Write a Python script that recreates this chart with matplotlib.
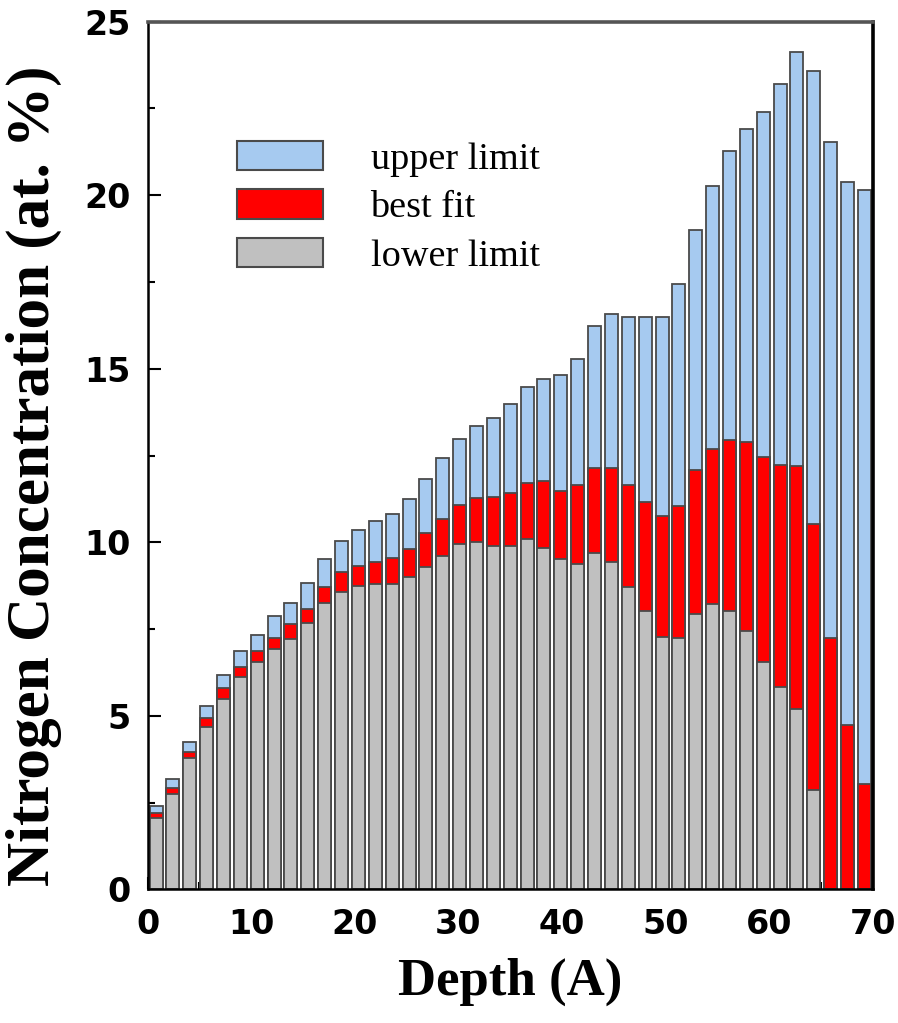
import numpy as np
import matplotlib
matplotlib.use("Agg")
import matplotlib.pyplot as plt
from matplotlib.patches import Patch
from matplotlib.ticker import MultipleLocator

# Nitrogen depth profile: 43 slabs spanning 0-70 A
n_bins = 43
depth_max = 70.0

upper_limit = [
    2.40, 3.18, 4.26, 5.29, 6.18, 6.87, 7.33, 7.89, 8.26, 8.84,
    9.53, 10.05, 10.36, 10.61, 10.83, 11.24, 11.82, 12.44, 12.97, 13.34,
    13.59, 13.98, 14.46, 14.70, 14.81, 15.27, 16.23, 16.58, 16.48, 16.48,
    16.50, 17.43, 18.99, 20.27, 21.26, 21.91, 22.39, 23.21, 24.11, 23.58,
    21.53, 20.39, 20.14,
]
best_fit = [
    2.21, 2.92, 3.95, 4.93, 5.79, 6.42, 6.87, 7.23, 7.65, 8.09,
    8.70, 9.14, 9.31, 9.44, 9.55, 9.80, 10.26, 10.68, 11.07, 11.29,
    11.31, 11.41, 11.72, 11.77, 11.48, 11.65, 12.14, 12.14, 11.65, 11.17,
    10.75, 11.04, 12.08, 12.70, 12.95, 12.88, 12.46, 12.22, 12.19, 10.54,
    7.23, 4.74, 3.05,
]
lower_limit = [
    2.05, 2.75, 3.78, 4.67, 5.49, 6.13, 6.54, 6.92, 7.21, 7.69,
    8.24, 8.56, 8.74, 8.80, 8.80, 8.99, 9.30, 9.60, 9.95, 10.00,
    9.90, 9.90, 10.09, 9.85, 9.51, 9.39, 9.70, 9.44, 8.70, 8.02,
    7.28, 7.23, 7.93, 8.22, 8.03, 7.45, 6.54, 5.84, 5.19, 2.88,
    0.0, 0.0, 0.0,
]

series_labels = ["upper limit", "best fit", "lower limit"]
series_colors = ["#a6caf0", "#ff0000", "#c0c0c0"]

step = depth_max / n_bins
depth = (np.arange(n_bins) + 0.5) * step
width = 0.77 * step

fig = plt.figure(figsize=(8.98, 10.23), dpi=100)
ax = fig.add_axes([0.1644, 0.1305, 0.8076, 0.8484])

# bars overlap from zero: tallest drawn first, smaller ones on top
for values, color in zip([upper_limit, best_fit, lower_limit], series_colors):
    ax.bar(depth, values, width=width, color=color, edgecolor="#4a4a4a",
           linewidth=1.3, zorder=2)

ax.set_xlim(0, depth_max)
ax.set_ylim(0, 25)
ax.xaxis.set_major_locator(MultipleLocator(10))
ax.xaxis.set_minor_locator(MultipleLocator(5))
ax.yaxis.set_major_locator(MultipleLocator(5))
ax.yaxis.set_minor_locator(MultipleLocator(2.5))
ax.tick_params(which="both", direction="in", top=False, right=False,
               width=1.5, color="black")
ax.tick_params(which="major", length=9)
ax.tick_params(which="minor", length=5)
ax.tick_params(axis="x", pad=13)
ax.tick_params(axis="y", pad=12)

for lab in ax.get_xticklabels() + ax.get_yticklabels():
    lab.set_fontfamily("DejaVu Sans")
    lab.set_fontweight("bold")
    lab.set_fontsize(24)

for side in ["left", "bottom"]:
    ax.spines[side].set_linewidth(1.8)
    ax.spines[side].set_color("black")
ax.spines["top"].set_linewidth(2.6)
ax.spines["top"].set_color("#555555")
ax.spines["right"].set_linewidth(2.6)
ax.spines["right"].set_color("black")

ax.set_xlabel("Depth (A)", family="Liberation Serif", weight="bold",
              fontsize=38, labelpad=12)
ax.set_ylabel("Nitrogen Concentration (at. %)", family="Liberation Serif",
              weight="bold", fontsize=44)
ax.yaxis.set_label_coords(-0.118, 0.477)

handles = [Patch(facecolor=c, edgecolor="#4a4a4a", linewidth=1.5)
           for c in series_colors]
ax.legend(handles, series_labels, loc="upper left",
          bbox_to_anchor=(0.102, 0.88), frameon=False,
          prop={"family": "Liberation Serif", "size": 27.5},
          handlelength=2.25, handleheight=0.8, handletextpad=1.25,
          labelspacing=0.33, borderaxespad=0)

fig.savefig("out.png", dpi=100)
